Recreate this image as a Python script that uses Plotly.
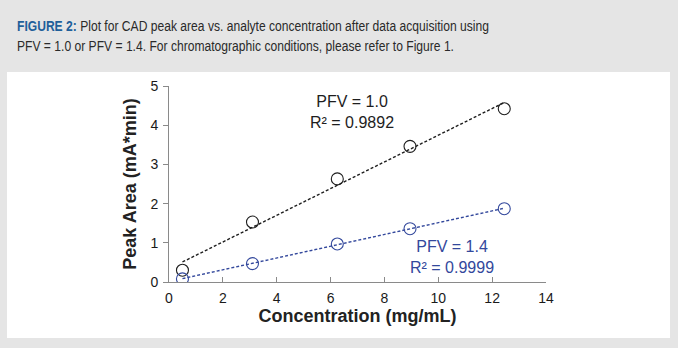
import numpy as np
import plotly.graph_objects as go

# Data
conc = [0.5, 3.1, 6.25, 8.95, 12.45]
area_pfv10 = [0.30, 1.53, 2.63, 3.46, 4.42]
area_pfv14 = [0.08, 0.47, 0.97, 1.36, 1.87]
x_ticks = [0, 2, 4, 6, 8, 10, 12, 14]
y_ticks = [0, 1, 2, 3, 4, 5]

BLACK = "#1e1e1e"
BLUE = "#33489c"
FONT = "Liberation Sans, Arial, sans-serif"

fig = go.Figure()


def add_series(y, color):
    xs = np.array(conc)
    ys = np.array(y)
    m, b = np.polyfit(xs, ys, 1)
    xl = [xs.min(), xs.max()]
    fig.add_trace(go.Scatter(x=xl, y=[m * v + b for v in xl], mode="lines",
                             line=dict(color=color, width=1.4, dash="3px,2px"),
                             showlegend=False, hoverinfo="skip"))
    fig.add_trace(go.Scatter(x=conc, y=y, mode="markers",
                             marker=dict(symbol="circle-open", size=12,
                                         color=color, line=dict(width=1.1, color=color)),
                             showlegend=False))


add_series(area_pfv10, BLACK)
add_series(area_pfv14, BLUE)

# plot area: x 169..546, y 86..282
L, R, T, B = 169, 546, 86, 282
W, H = R - L, B - T


def px(xp):
    return (xp - L) / W


def py(yp):
    return (B - yp) / H


fig.add_shape(type="rect", xref="paper", yref="paper", layer="below",
              x0=px(7), x1=px(670), y0=py(338), y1=py(72),
              fillcolor="white", line=dict(width=0))

fig.add_annotation(xref="paper", yref="paper", x=px(15), y=py(26), xanchor="left", yanchor="middle",
                   showarrow=False, align="left",
                   text="<b><span style='color:#1f5f9a'>FIGURE 2:</span></b> Plot for CAD peak area vs. analyte concentration after data acquisition using",
                   font=dict(family=FONT, size=14.5, color="#2a2a2a"))
fig.add_annotation(xref="paper", yref="paper", x=px(15), y=py(46), xanchor="left", yanchor="middle",
                   showarrow=False, align="left",
                   text="PFV = 1.0 or PFV = 1.4. For chromatographic conditions, please refer to Figure 1.",
                   font=dict(family=FONT, size=14.5, color="#2a2a2a"))

fig.add_annotation(x=(352 - L) / W * 14, y=(B - 112) / H * 5, text="PFV = 1.0<br>R² = 0.9892",
                   showarrow=False, align="center", font=dict(family=FONT, size=16, color=BLACK))
fig.add_annotation(x=(452 - L) / W * 14, y=(B - 257) / H * 5, text="PFV = 1.4<br>R² = 0.9999",
                   showarrow=False, align="center", font=dict(family=FONT, size=16, color=BLUE))

fig.update_layout(
    width=678, height=348,
    margin=dict(l=L, r=678 - R, t=T, b=348 - B),
    paper_bgcolor="#e5e5e5", plot_bgcolor="white",
    font=dict(family=FONT, color="#222"),
    xaxis=dict(range=[0, 14], tickvals=x_ticks, showgrid=False, zeroline=False,
               showline=True, linecolor="#8a8a8a", linewidth=1,
               ticks="inside", ticklen=5, tickcolor="#8a8a8a",
               tickfont=dict(size=14, color="#1a1a1a"), ticklabelstandoff=3,
               title=dict(text="<b>Concentration (mg/mL)</b>", font=dict(size=18, color="#222"), standoff=4)),
    yaxis=dict(range=[0, 5], tickvals=y_ticks, showgrid=False, zeroline=False,
               showline=True, linecolor="#8a8a8a", linewidth=1,
               ticks="outside", ticklen=5, tickcolor="#8a8a8a",
               tickfont=dict(size=14, color="#1a1a1a"), ticklabelstandoff=2,
               title=dict(text="<b>Peak Area (mA*min)</b>", font=dict(size=18, color="#222"), standoff=9)),
)

# Condense the two caption lines horizontally (the original uses a condensed typeface)
post = """
var gd = document.getElementById('{plot_id}');
function squeeze() {
  [0, 1].forEach(function (i) {
    var t = gd.querySelector('.annotation[data-index="' + i + '"] text');
    if (!t) return;
    t.removeAttribute('transform');
    var bb = t.getBBox();
    var k = 0.835;
    t.setAttribute('transform', 'translate(' + bb.x + ',0) scale(' + k + ',1) translate(' + (-bb.x) + ',0)');
  });
}
squeeze();
gd.on('plotly_afterplot', squeeze);
"""

fig.write_html("out.html", post_script=post)
